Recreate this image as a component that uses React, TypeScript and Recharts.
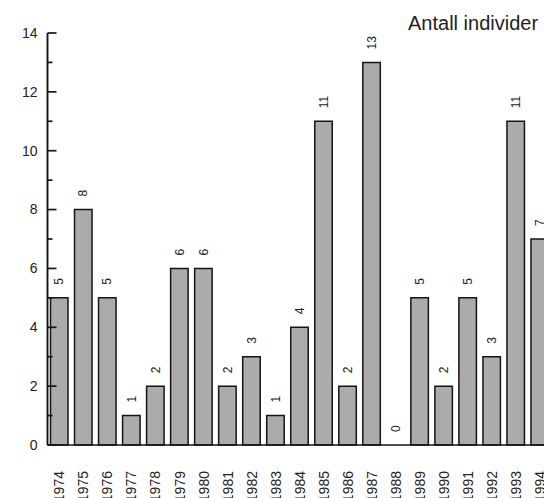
import { BarChart, Bar, XAxis, YAxis, LabelList, Rectangle } from 'recharts'

const years = ['1974', '1975', '1976', '1977', '1978', '1979', '1980', '1981', '1982', '1983', '1984',
    '1985', '1986', '1987', '1988', '1989', '1990', '1991', '1992', '1993', '1994']
const counts = [5, 8, 5, 1, 2, 6, 6, 2, 3, 1, 4, 11, 2, 13, 0, 5, 2, 5, 3, 11, 7]
const yTicks = [0, 1, 2, 3, 4, 5, 6, 7, 8, 9, 10, 11, 12, 13, 14]
const title = 'Antall individer'

const FONT = '"Liberation Sans", Arial, Helvetica, sans-serif'
const INK = '#151515'

const data = years.map((year, i) => ({ year, count: counts[i] }))

function YTick({ x, y, payload }: any) {
    const v = payload.value
    const major = v % 2 === 0
    return (
        <g>
            <line x1={x} x2={x + (major ? 9 : 5)} y1={y} y2={y} stroke={INK} strokeWidth={1.7} />
            {major && (
                <text x={x - 10} y={y} dy="0.35em" textAnchor="end" fontSize={14} fill="#222" fontFamily={FONT}>
                    {v}
                </text>
            )}
        </g>
    )
}

function XTick({ x, y, payload }: any) {
    const ty = y + 18
    return (
        <text x={x} y={ty} dy="0.35em" textAnchor="end" fontSize={14} fill="#222" fontFamily={FONT}
            transform={`rotate(-90 ${x} ${ty})`}>
            {payload.value}
        </text>
    )
}

function ValueLabel({ x, y, width, height, value }: any) {
    const cx = x + width / 2
    // zero bars get a 1px placeholder height, so label off the baseline
    const top = value === 0 ? y + height : y
    const ty = top - 13
    return (
        <text x={cx} y={ty} dy="0.35em" textAnchor="start" fontSize={12} fill="#222" fontFamily={FONT}
            transform={`rotate(-90 ${cx} ${ty})`}>
            {value}
        </text>
    )
}

function BarShape(props: any) {
    if (props.payload && props.payload.count === 0) return <g />
    return <Rectangle {...props} />
}

export default function App() {
    return (
        <div style={{ position: 'fixed', left: 0, top: 0, width: 544, height: 498, overflow: 'hidden', background: '#fff' }}>
            <BarChart width={552} height={498} data={data} margin={{ top: 33, right: 0, bottom: 0, left: 0 }}>
                <XAxis
                    dataKey="year"
                    height={53}
                    interval={0}
                    tickLine={false}
                    axisLine={{ stroke: INK, strokeWidth: 1.7 }}
                    tick={<XTick />}
                />
                <YAxis
                    width={47.5}
                    domain={[0, 14]}
                    ticks={yTicks}
                    interval={0}
                    tickSize={0}
                    tickMargin={0}
                    tickLine={false}
                    axisLine={{ stroke: INK, strokeWidth: 1.9 }}
                    tick={<YTick />}
                />
                <Bar dataKey="count" fill="#ababab" stroke={INK} strokeWidth={1.5} barSize={17.5}
                    minPointSize={1} shape={<BarShape />} isAnimationActive={false}>
                    <LabelList dataKey="count" content={<ValueLabel />} />
                </Bar>
            </BarChart>
            <div style={{ position: 'absolute', left: 408, top: 12, fontFamily: FONT, fontSize: 20, color: '#222', whiteSpace: 'nowrap' }}>
                {title}
            </div>
        </div>
    )
}
